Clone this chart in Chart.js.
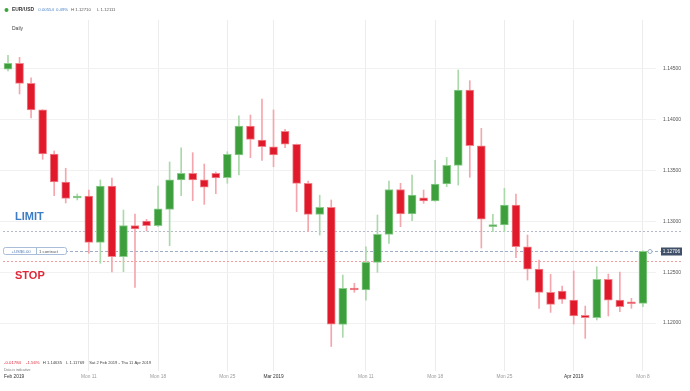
<!DOCTYPE html>
<html><head><meta charset="utf-8">
<script src="https://cdn.jsdelivr.net/npm/chart.js@4.4.1/dist/chart.umd.min.js"></script>
<style>html,body{margin:0;padding:0;background:#fff;overflow:hidden}#wrap{position:relative;width:690px;height:391px}canvas{display:block}</style>
</head><body><div id="wrap"><canvas id="c" width="690" height="391"></canvas></div>
<script>
// ---- data ----
const dates = [
 'Sun 3 Feb','Mon 4 Feb','Tue 5 Feb','Wed 6 Feb','Thu 7 Feb','Fri 8 Feb',
 'Sun 10 Feb','Mon 11 Feb','Tue 12 Feb','Wed 13 Feb','Thu 14 Feb','Fri 15 Feb',
 'Sun 17 Feb','Mon 18 Feb','Tue 19 Feb','Wed 20 Feb','Thu 21 Feb','Fri 22 Feb',
 'Sun 24 Feb','Mon 25 Feb','Tue 26 Feb','Wed 27 Feb','Thu 28 Feb','Fri 1 Mar',
 'Sun 3 Mar','Mon 4 Mar','Tue 5 Mar','Wed 6 Mar','Thu 7 Mar','Fri 8 Mar',
 'Sun 10 Mar','Mon 11 Mar','Tue 12 Mar','Wed 13 Mar','Thu 14 Mar','Fri 15 Mar',
 'Sun 17 Mar','Mon 18 Mar','Tue 19 Mar','Wed 20 Mar','Thu 21 Mar','Fri 22 Mar',
 'Sun 24 Mar','Mon 25 Mar','Tue 26 Mar','Wed 27 Mar','Thu 28 Mar','Fri 29 Mar',
 'Sun 31 Mar','Mon 1 Apr','Tue 2 Apr','Wed 3 Apr','Thu 4 Apr','Fri 5 Apr',
 'Sun 7 Apr','Mon 8 Apr'];
const opens = [1.14497,1.14556,1.14359,1.14097,1.13663,1.13388,1.13230,1.13250,1.12794,1.13348,
 1.12653,1.12958,1.13004,1.12958,1.13119,1.13408,1.13473,1.13408,1.13473,1.13430,
 1.13654,1.13939,1.13801,1.13735,1.13887,1.13759,1.13375,1.13070,1.13139,1.11987,
 1.12342,1.12325,1.12597,1.12873,1.13314,1.13073,1.13233,1.13201,1.13368,1.13552,
 1.14293,1.13745,1.12948,1.12965,1.13161,1.12751,1.12532,1.12302,1.12315,1.12226,
 1.12076,1.12052,1.12430,1.12226,1.12200,1.12194];
const closes = [1.14556,1.14359,1.14097,1.13663,1.13388,1.13227,1.13250,1.12794,1.13348,1.12653,
 1.12958,1.12925,1.12958,1.13125,1.13408,1.13473,1.13408,1.13336,1.13427,1.13661,
 1.13939,1.13808,1.13735,1.13654,1.13759,1.13375,1.13070,1.13139,1.11990,1.12342,
 1.12325,1.12597,1.12873,1.13314,1.13073,1.13258,1.13201,1.13368,1.13553,1.14293,
 1.13745,1.13021,1.12965,1.13161,1.12751,1.12529,1.12302,1.12184,1.12233,1.12069,
 1.12052,1.12430,1.12226,1.12160,1.12190,1.12706];
const highs = [1.14635,1.14615,1.14412,1.14100,1.13693,1.13523,1.13270,1.13309,1.13408,1.13427,
 1.13112,1.13073,1.13021,1.13348,1.13585,1.13725,1.13676,1.13565,1.13486,1.13686,
 1.14038,1.14047,1.14205,1.14097,1.13907,1.13762,1.13398,1.13258,1.13211,1.12472,
 1.12391,1.12751,1.13063,1.13398,1.13375,1.13455,1.13309,1.13600,1.13629,1.14490,
 1.14385,1.13916,1.13070,1.13326,1.13270,1.12866,1.12620,1.12479,1.12364,1.12512,
 1.12167,1.12554,1.12482,1.12502,1.12243,1.12710];
const lows = [1.14480,1.14254,1.14018,1.13611,1.13253,1.13181,1.13211,1.12686,1.12588,1.12502,
 1.12505,1.12351,1.12906,1.12948,1.12761,1.13253,1.13204,1.13168,1.13273,1.13375,
 1.13457,1.13627,1.13601,1.13538,1.13725,1.13096,1.12901,1.12866,1.11769,1.11859,
 1.12302,1.12226,1.12499,1.12784,1.12948,1.13007,1.13178,1.13196,1.13342,1.13358,
 1.13434,1.12738,1.12899,1.12899,1.12643,1.12423,1.12145,1.12105,1.12194,1.11990,
 1.11849,1.12030,1.12069,1.12111,1.12145,1.12160];
const xTickIndex = [7,13,19,23,31,37,43,49,55];
const xTickLabels = ['Mon 11','Mon 18','Mon 25','Mar 2019','Mon 11','Mon 18','Mon 25','Apr 2019','Mon 8'];
const monthTicks = ['Mar 2019','Apr 2019'];
const yTicks = [1.12000,1.12500,1.13000,1.13500,1.14000,1.14500];
const limitPrice = 1.12906;
const currentPrice = 1.12706;
const stopPrice = 1.12610;

// ---- styles ----
const FONT = "'Liberation Sans', Arial, sans-serif";
const RED = '#e11a2b', RED_EDGE = '#f0838c', RED_WICK = '#f5a6ad';
const GREEN = '#3c9f3c', GREEN_EDGE = '#8ccc8c', GREEN_WICK = '#abd9ab';
Chart.defaults.font.family = FONT;
const up = opens.map((o,i) => closes[i] >= o);

function t(ctx, s, x, y, size, color, weight, align, base) {
  ctx.font = (weight || 'normal') + ' ' + size + 'px ' + FONT;
  ctx.fillStyle = color;
  ctx.textAlign = align || 'left';
  ctx.textBaseline = base || 'middle';
  ctx.fillText(s, x, y);
  return ctx.measureText(s).width;
}
function hline(ctx, y, x0, x1, color, dash) {
  ctx.save();
  ctx.strokeStyle = color; ctx.lineWidth = 1; ctx.setLineDash(dash);
  ctx.beginPath(); ctx.moveTo(x0, Math.round(y) + 0.5); ctx.lineTo(x1, Math.round(y) + 0.5); ctx.stroke();
  ctx.restore();
}

const linesPlugin = {
  id: 'levels',
  beforeDatasetsDraw(chart) {
    const ctx = chart.ctx, y = chart.scales.y;
    hline(ctx, y.getPixelForValue(limitPrice), 3, 682, '#b5bac8', [2, 2]);
    hline(ctx, y.getPixelForValue(currentPrice), 60, 661, '#9dadc6', [3, 2]);
    hline(ctx, y.getPixelForValue(stopPrice), 3, 682, '#f19c9c', [2, 2]);
  },
  afterDraw(chart) {
    const ctx = chart.ctx, y = chart.scales.y;
    ctx.save();
    // header
    ctx.fillStyle = '#3aa53a';
    ctx.beginPath(); ctx.arc(6.5, 10, 2, 0, Math.PI * 2); ctx.fill();
    t(ctx, 'EUR/USD', 12, 10, 4.9, '#333', 'bold');
    t(ctx, '0.00554', 38.3, 10, 4.3, '#4a80c8');
    t(ctx, '0.49%', 56, 10, 4.3, '#4a80c8');
    t(ctx, 'H 1.12710', 71, 10, 4.3, '#555');
    t(ctx, 'L 1.12111', 97, 10, 4.3, '#555');
    t(ctx, 'Daily', 12, 29, 5, '#444');
    // bottom info
    t(ctx, '-0.01784', 4, 363, 4.3, '#e0283a');
    t(ctx, '-1.56%', 26, 363, 4.3, '#e0283a');
    t(ctx, 'H 1.14635', 42.7, 363, 4.2, '#444');
    t(ctx, 'L 1.11769', 66, 363, 4.2, '#444');
    t(ctx, 'Sat 2 Feb 2019 - Thu 11 Apr 2019', 89.3, 363, 4.1, '#444');
    t(ctx, 'Data is indicative', 4, 370, 3.5, '#777');
    t(ctx, 'Feb 2019', 4, 377, 4.8, '#333');
    // limit / stop labels
    const ly = y.getPixelForValue(limitPrice), cy = y.getPixelForValue(currentPrice), sy = y.getPixelForValue(stopPrice);
    t(ctx, 'LIMIT', 15, ly - 11, 11, '#3d7cc4', 'bold', 'left', 'alphabetic');
    t(ctx, 'STOP', 15, sy + 17.5, 11, '#e0283a', 'bold', 'left', 'alphabetic');
    // position box
    ctx.fillStyle = '#fff'; ctx.strokeStyle = '#a9bcd8'; ctx.lineWidth = 1;
    ctx.beginPath(); ctx.roundRect(3.5, Math.round(cy) - 3.5, 63, 7, 2); ctx.fill(); ctx.stroke();
    ctx.beginPath(); ctx.moveTo(36.5, Math.round(cy) - 3.5); ctx.lineTo(36.5, Math.round(cy) + 3.5); ctx.stroke();
    t(ctx, '+US$6.00', 11.5, cy + 0.3, 4.3, '#5a7fb6');
    t(ctx, '1 contract', 39, cy + 0.3, 4.3, '#555');
    // price tag
    ctx.fillStyle = '#3f5068';
    ctx.fillRect(661, Math.round(cy) - 3.5, 21, 8);
    t(ctx, currentPrice.toFixed(5), 671.5, cy + 0.5, 4.8, '#fff', 'normal', 'center');
    ctx.fillStyle = '#fff'; ctx.strokeStyle = '#9dadc6';
    ctx.beginPath(); ctx.arc(650, Math.round(cy) + 0.5, 2, 0, Math.PI * 2); ctx.fill(); ctx.stroke();
    ctx.restore();
  }
};

new Chart(document.getElementById('c'), {
  type: 'bar',
  data: {
    labels: dates,
    datasets: [
      {
        label: 'body',
        data: dates.map((d, i) => ({ x: i, y: [opens[i], closes[i]] })),
        backgroundColor: up.map(u => u ? GREEN : RED),
        borderColor: up.map(u => u ? GREEN_EDGE : RED_EDGE),
        borderWidth: 1,
        borderSkipped: false,
        barThickness: 8,
        minBarLength: 2,
        grouped: false
      },
      {
        label: 'wick',
        data: dates.map((d, i) => ({ x: i, y: [lows[i], highs[i]] })),
        backgroundColor: up.map(u => u ? GREEN_WICK : RED_WICK),
        borderWidth: 0,
        barThickness: 1,
        grouped: false
      }
    ]
  },
  options: {
    responsive: false,
    animation: false,
    devicePixelRatio: 1,
    layout: { padding: { top: 20, left: 0, right: 0, bottom: 0 } },
    plugins: { legend: { display: false }, tooltip: { enabled: false } },
    scales: {
      x: {
        type: 'linear',
        min: -0.693, max: 56.13,
        offset: false,
        afterBuildTicks: s => { s.ticks = xTickIndex.map(v => ({ value: v })); },
        afterFit: s => { s.height = 20; },
        ticks: {
          autoSkip: false, maxRotation: 0, padding: 3,
          font: { size: 4.8 },
          color: c => monthTicks.includes(xTickLabels[c.index]) ? '#333' : '#9a9a9a',
          callback: (v, i) => xTickLabels[i]
        },
        grid: { color: '#ececec', drawTicks: false, offset: false },
        border: { display: false }
      },
      y: {
        position: 'right',
        min: 1.11528, max: 1.14982,
        afterBuildTicks: s => { s.ticks = yTicks.map(v => ({ value: v })); },
        afterFit: s => { s.width = 34; },
        ticks: { padding: 7, font: { size: 5 }, color: '#555', callback: v => Number(v).toFixed(5) },
        grid: { color: '#f1f1f1', drawTicks: false },
        border: { display: false }
      }
    }
  },
  plugins: [linesPlugin]
});
</script>
</body></html>
